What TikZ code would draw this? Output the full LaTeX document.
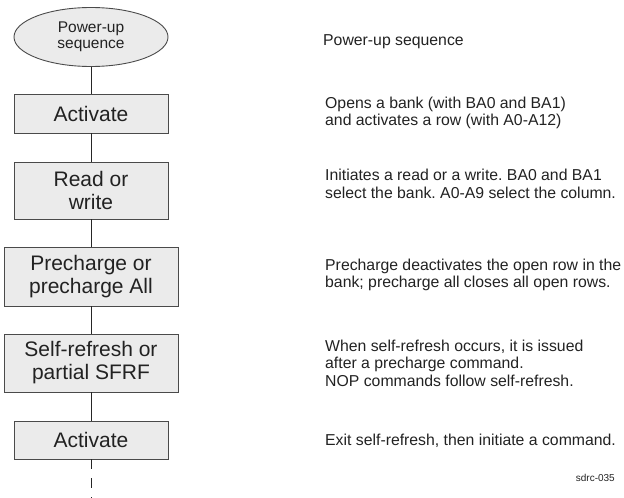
\documentclass[tikz,border=0pt]{standalone}
\usepackage{fontspec}
\setmainfont{Liberation Sans}
\usetikzlibrary{shapes.geometric}
\definecolor{boxfill}{HTML}{EBEBEB}
\definecolor{edge}{HTML}{4A4A4A}
\definecolor{ink}{HTML}{222222}
\frenchspacing
\begin{document}
\begin{tikzpicture}[x=1pt,y=-1pt,
  box/.style={draw=edge, fill=boxfill, line width=0.9pt, inner sep=0pt, align=center,
              font=\fontsize{21}{23}\selectfont, text=ink},
  oval/.style={ellipse, draw=edge, fill=boxfill, line width=0.9pt, inner sep=0pt, align=center,
              font=\fontsize{15.5}{16}\selectfont, text=ink, minimum width=154pt, minimum height=59pt},
  desc/.style={anchor=west, align=left, inner sep=0pt, font=\fontsize{15.8}{17.5}\selectfont\frenchspacing, text=ink},
  link/.style={draw=black!85, line width=0.9pt}]
\useasboundingbox (0,0) rectangle (624,498);

\node[oval] (pu) at (91,37) {Power-up\\sequence};
\node[box, minimum width=154pt, minimum height=39pt] (a1) at (91,113.5) {Activate};
\node[box, minimum width=154pt, minimum height=57pt] (rw) at (91,190.5) {Read or\\write};
\node[box, minimum width=174pt, minimum height=59pt] (pc) at (91,276.5) {Precharge or\\precharge All};
\node[box, minimum width=174pt, minimum height=58pt] (sr) at (91,363) {Self-refresh or\\partial SFRF};
\node[box, minimum width=154pt, minimum height=38pt] (a2) at (91,440) {Activate};
\coordinate (end) at (91,498);

\draw[link] (pu) -- (a1);
\draw[link] (a1) -- (rw);
\draw[link] (rw) -- (pc);
\draw[link] (pc) -- (sr);
\draw[link] (sr) -- (a2);
\draw[link, dash pattern=on 10pt off 9pt] (a2) -- (end);

\node[desc] (t0) at (323,42) {Power-up sequence};
\node[desc] (t1) at (325,113) {Opens a bank (with BA0 and BA1)\\and activates a row (with A0-A12)};
\node[desc] (t2) at (325,184) {Initiates a read or a write. BA0 and BA1\\select the bank. A0-A9 select the column.};
\node[desc] (t3) at (325,275) {Precharge deactivates the open row in the\\bank; precharge all closes all open rows.};
\node[desc] (t4) at (325,363) {When self-refresh occurs, it is issued\\after a precharge command.\\NOP commands follow self-refresh.};
\node[desc] (t5) at (325,441) {Exit self-refresh, then initiate a command.};
\node[anchor=east, inner sep=0pt, font=\fontsize{10}{12}\selectfont, text=ink] (id) at (615,478) {sdrc-035};
\end{tikzpicture}
\end{document}
